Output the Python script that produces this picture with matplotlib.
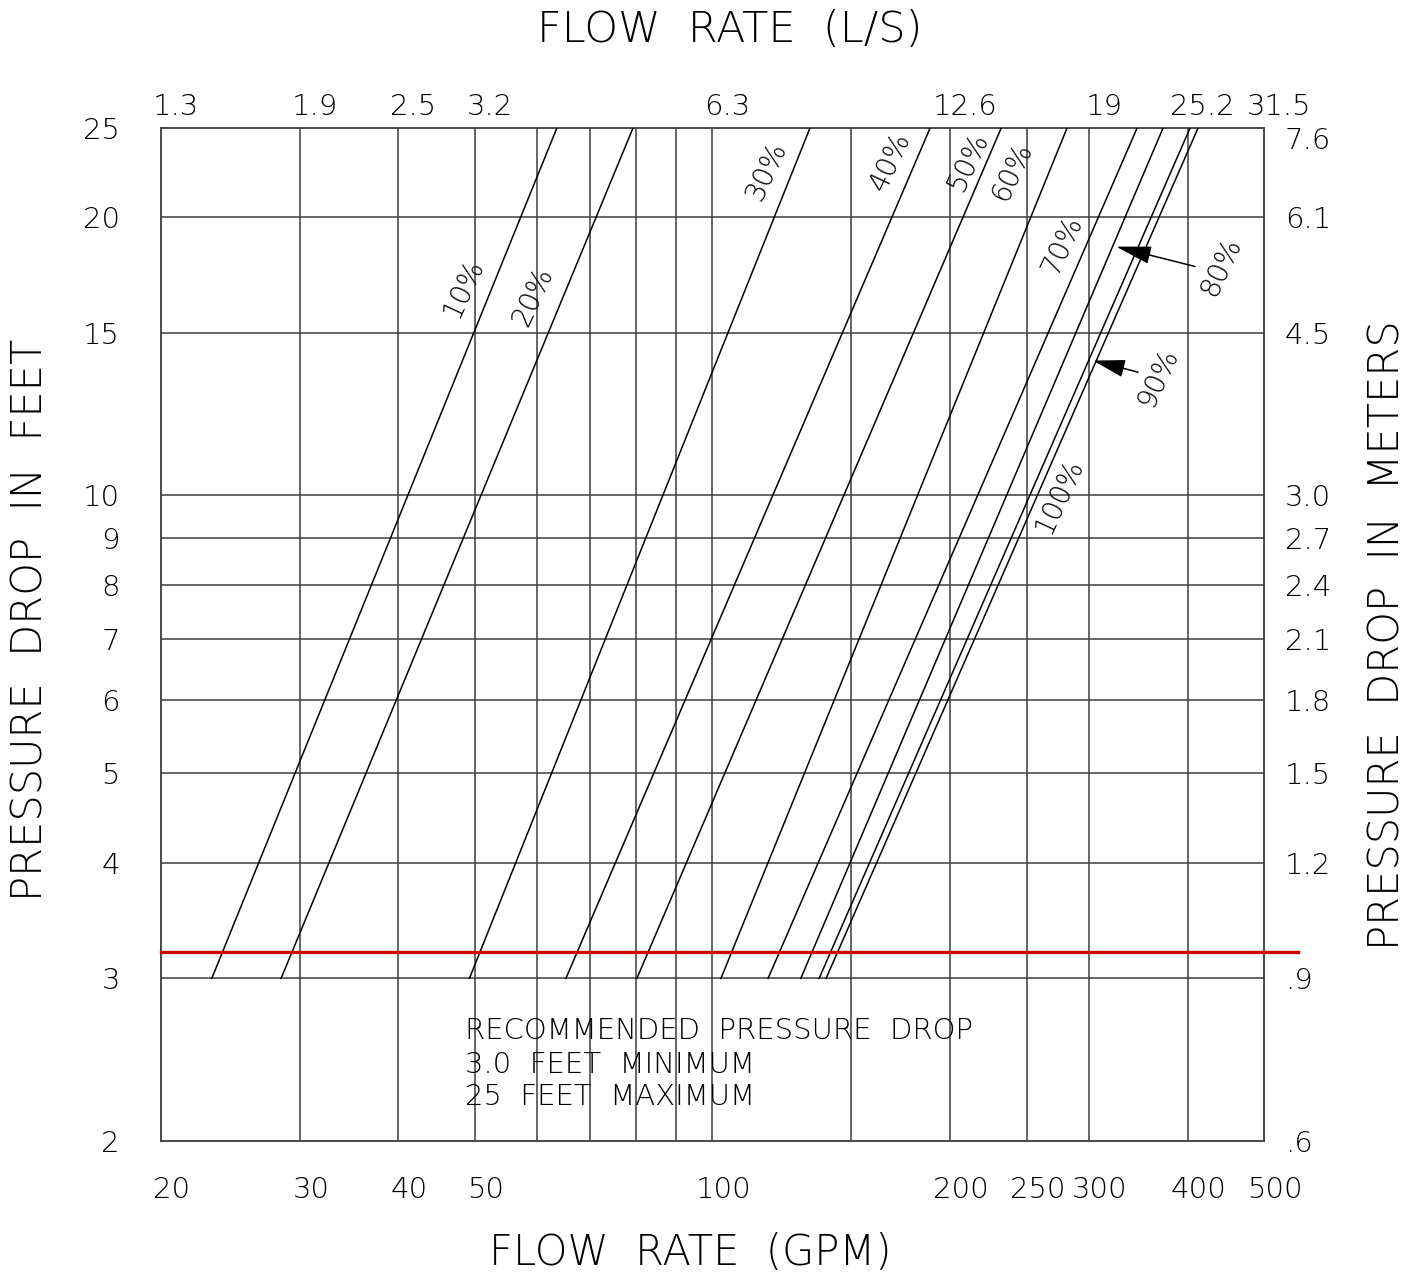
import matplotlib
matplotlib.use('Agg')
import matplotlib.pyplot as plt
import matplotlib.transforms as mtransforms
from matplotlib.ticker import NullLocator

plt.rcParams['font.family'] = ['DejaVu Sans']
plt.rcParams['font.weight'] = 'ultralight'

# ------------------------------------------------------------------
# data
# ------------------------------------------------------------------
opening = ['10%', '20%', '30%', '40%', '50%', '60%', '70%', '80%', '90%', '100%']
gpm_at_3ft = [23.2, 28.4, 49.2, 65.2, 80.2, 102.5, 117.6, 129.4, 136.5, 139.3]
gpm_at_25ft = [63.5, 79.3, 132.9, 188.7, 232.2, 281.4, 345.2, 372.4, 402.9, 412.4]
dp_low, dp_high = 3, 25
recommended_dp = 3.2

gpm_ticks = [20, 30, 40, 50, 100, 200, 250, 300, 400, 500]
lps_ticks = [20, 30, 40, 50, 100, 200, 300, 400, 500]
lps_labels = ['1.3', '1.9', '2.5', '3.2', '6.3', '12.6', '19', '25.2', '31.5']
feet_ticks = [2, 3, 4, 5, 6, 7, 8, 9, 10, 15, 20, 25]
meter_labels = ['.6', '.9', '1.2', '1.5', '1.8', '2.1', '2.4', '2.7', '3.0', '4.5', '6.1', '7.6']
grid_x = [30, 40, 50, 60, 70, 80, 90, 100, 150, 200, 250, 300, 400]
grid_y = [3, 4, 5, 6, 7, 8, 9, 10, 15, 20]

note_lines = ['RECOMMENDED  PRESSURE  DROP', '3.0  FEET  MINIMUM', '25  FEET  MAXIMUM']

# label placement (gpm, feet)
label_pos = [(48.4, 16.8), (59.2, 16.4), (117.2, 22.5), (167.9, 23.0), (210.8, 23.0),
             (239.7, 22.4), (277.4, 18.7), (441.3, 17.7), (366.9, 13.4), (275, 10.0)]

# ------------------------------------------------------------------
fig = plt.figure(figsize=(14.23, 12.8), dpi=100)
ax = fig.add_axes([0.1131, 0.1086, 0.7752, 0.7914])
ax.set_xscale('log')
ax.set_yscale('log')
ax.set_xlim(20, 500)
ax.set_ylim(2, 25)

gcol = '#3c3c3c'
for gx in grid_x:
    ax.axvline(gx, color=gcol, lw=1.1, zorder=1)
for gy in grid_y:
    ax.axhline(gy, color=gcol, lw=1.1, zorder=1)
for s in ax.spines.values():
    s.set_color(gcol)
    s.set_linewidth(1.3)

# valve curves
for g3, g25 in zip(gpm_at_3ft, gpm_at_25ft):
    ax.plot([g3, g25], [dp_low, dp_high], color='black', lw=1.1, zorder=3)

for txt, (lx, ly) in zip(opening, label_pos):
    ax.text(lx, ly, txt, rotation=65, ha='center', va='center',
            rotation_mode='anchor', fontsize=20, zorder=4)

# arrows for 80% and 90%
ax.annotate('', xy=(324.7, 18.6), xytext=(408.8, 17.7),
            arrowprops=dict(arrowstyle='-|>,head_length=2.2,head_width=0.55',
                            color='black', lw=1.1, mutation_scale=10,
                            shrinkA=0, shrinkB=0))
ax.annotate('', xy=(303.6, 14.0), xytext=(346.2, 13.6),
            arrowprops=dict(arrowstyle='-|>,head_length=2.0,head_width=0.55',
                            color='black', lw=1.1, mutation_scale=10,
                            shrinkA=0, shrinkB=0))

# recommended pressure drop line
ax.plot([20, 552], [recommended_dp, recommended_dp], color='#cc0000', lw=2.4,
        clip_on=False, zorder=5)

for line, ny in zip(note_lines, [2.63, 2.42, 2.23]):
    ax.text(48.6, ny, line, ha='left', va='center', fontsize=21)

# bottom / left ticks
ax.xaxis.set_minor_locator(NullLocator())
ax.yaxis.set_minor_locator(NullLocator())
ax.set_xticks(gpm_ticks)
ax.set_xticklabels([str(v) for v in gpm_ticks])
ax.set_yticks(feet_ticks)
ax.set_yticklabels([str(v) for v in feet_ticks])
ax.tick_params(axis='x', length=0, pad=25, labelsize=21)
ax.tick_params(axis='y', length=0, pad=29.5, labelsize=21)
off = mtransforms.ScaledTranslation(0.11, 0, fig.dpi_scale_trans)
for lab in ax.get_xticklabels():
    lab.set_transform(lab.get_transform() + off)

# top axis: L/S
axt = ax.twiny()
axt.set_xscale('log')
axt.set_xlim(20, 500)
axt.xaxis.set_minor_locator(NullLocator())
axt.set_xticks(lps_ticks)
axt.set_xticklabels(lps_labels)
axt.tick_params(axis='x', length=0, pad=5, labelsize=21)
off_t = mtransforms.ScaledTranslation(0.15, 0, fig.dpi_scale_trans)
for lab in axt.get_xticklabels():
    lab.set_transform(lab.get_transform() + off_t)
for s in axt.spines.values():
    s.set_visible(False)

# right axis: meters
axr = ax.twinx()
axr.set_yscale('log')
axr.set_ylim(2, 25)
axr.yaxis.set_minor_locator(NullLocator())
axr.set_yticks(feet_ticks)
axr.set_yticklabels(meter_labels)
axr.tick_params(axis='y', length=0, pad=15, labelsize=21)
# top right label sits a bit lower, clear of 31.5
off_r = mtransforms.ScaledTranslation(0, -0.10, fig.dpi_scale_trans)
top_lab = axr.get_yticklabels()[-1]
top_lab.set_transform(top_lab.get_transform() + off_r)
for s in axr.spines.values():
    s.set_visible(False)

# axis titles
fig.text(0.513, 0.9766, 'FLOW  RATE  (L/S)', ha='center', va='center', fontsize=31)
fig.text(0.4849, 0.0211, 'FLOW  RATE  (GPM)', ha='center', va='center', fontsize=30)
fig.text(0.0211, 0.5156, 'PRESSURE  DROP  IN  FEET', ha='center', va='center',
         rotation=90, fontsize=30)
fig.text(0.9747, 0.504, 'PRESSURE  DROP  IN  METERS', ha='center', va='center',
         rotation=90, fontsize=30)

fig.savefig('out.png', dpi=100)
